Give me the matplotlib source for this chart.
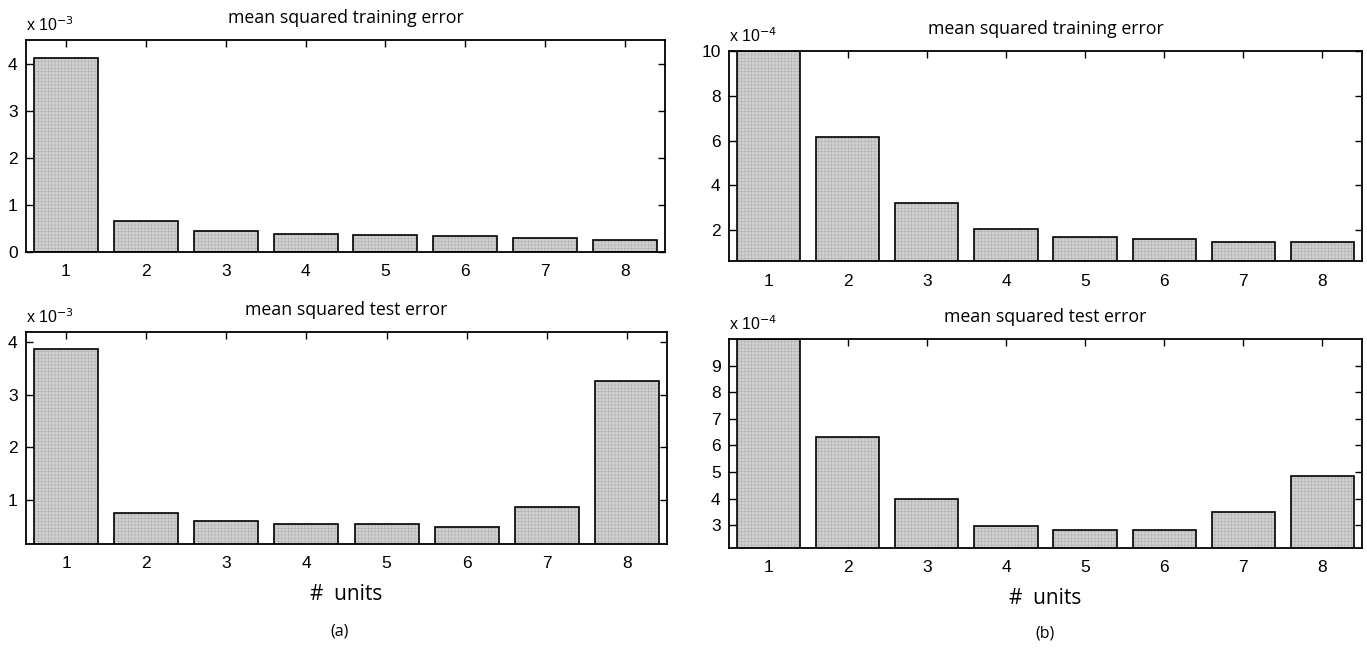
import matplotlib
matplotlib.use("Agg")
import matplotlib.pyplot as plt

units = [1, 2, 3, 4, 5, 6, 7, 8]

# panel (a), values x 1e-3
a_train = [4.12, 0.66, 0.45, 0.39, 0.36, 0.345, 0.29, 0.25]
a_test = [3.87, 0.75, 0.60, 0.54, 0.54, 0.49, 0.87, 3.27]
# panel (b), values x 1e-4 (first bar clipped at top of axes)
b_train = [10.0, 6.17, 3.20, 2.04, 1.68, 1.59, 1.46, 1.49]
b_test = [10.0, 6.31, 3.99, 2.96, 2.84, 2.84, 3.52, 4.87]

a_train_ticks = [0, 1, 2, 3, 4]
a_test_ticks = [1, 2, 3, 4]
b_train_ticks = [2, 4, 6, 8, 10]
b_test_ticks = [3, 4, 5, 6, 7, 8, 9]

W, H = 1367, 650
fig = plt.figure(figsize=(W / 100, H / 100), dpi=100)

title_font = {"family": "Open Sans", "size": 12.8}
tick_font = "Liberation Sans"


def px_axes(x0, y0, x1, y1):
    return fig.add_axes([x0 / W, 1 - y1 / H, (x1 - x0) / W, (y1 - y0) / H])


def panel(box, vals, yticks, ylim, title, exp, xlabel=None):
    ax = px_axes(*box)
    # stipple-like texture
    ax.bar(units, vals, width=0.8, color="#d0d0d0", edgecolor="#a0a0a0",
           linewidth=0, hatch="+++++", zorder=2)
    for p in ax.patches:
        p.set_hatch_linewidth(0.25)
    # outlines
    ax.bar(units, vals, width=0.8, fill=False, edgecolor="black",
           linewidth=1.2, zorder=3)
    ax.set_xlim(0.5, 8.5)
    ax.set_ylim(*ylim)
    ax.set_xticks(units)
    ax.set_yticks(yticks)
    ax.tick_params(direction="in", length=5, width=1, top=True, right=True,
                   labelsize=12.5)
    ax.tick_params(axis="x", pad=9)
    ax.tick_params(axis="y", pad=6)
    for lab in ax.get_xticklabels() + ax.get_yticklabels():
        lab.set_fontfamily(tick_font)
        lab.set_fontweight("medium")
    for s in ax.spines.values():
        s.set_linewidth(1.3)
        s.set_zorder(4)
    ax.set_title(title, fontdict=title_font, pad=12)
    ax.text(0.0, 1.03, r"x 10$^{%d}$" % exp, transform=ax.transAxes,
            fontsize=11.5, fontfamily=tick_font, ha="left", va="bottom")
    if xlabel:
        ax.set_xlabel(xlabel, fontsize=15, fontfamily="Open Sans", labelpad=9)
    return ax


panel((26, 40, 665, 252), a_train, a_train_ticks, (0, 4.5),
      "mean squared training error", -3)
panel((26, 332, 667, 544), a_test, a_test_ticks, (0.16, 4.2),
      "mean squared test error", -3, xlabel="#  units")
panel((729, 51, 1362, 261), b_train, b_train_ticks, (0.62, 10),
      "mean squared training error", -4)
panel((729, 339, 1362, 548), b_test, b_test_ticks, (2.15, 10),
      "mean squared test error", -4, xlabel="#  units")

fig.text(340 / W, 1 - 632 / H, "(a)", ha="center", va="center",
         fontsize=11.5, fontfamily="Open Sans")
fig.text(1045 / W, 1 - 634 / H, "(b)", ha="center", va="center",
         fontsize=11.5, fontfamily="Open Sans")

fig.savefig("out.png", dpi=100)
